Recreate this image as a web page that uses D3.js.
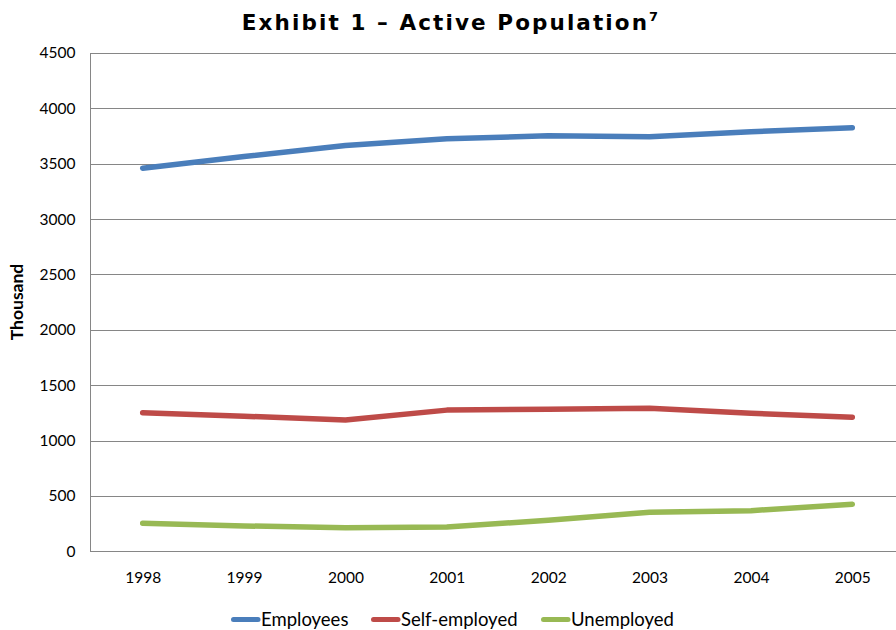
<!DOCTYPE html>
<html><head><meta charset="utf-8">
<script src="https://cdn.jsdelivr.net/npm/d3@7/dist/d3.min.js"></script>
<style>body{margin:0;background:#fff}svg{display:block}</style>
</head><body><svg id="c" width="896" height="630"></svg>
<script>
const years = ["1998","1999","2000","2001","2002","2003","2004","2005"];
const employees = [3460, 3565, 3665, 3725, 3752, 3744, 3789, 3825];
const selfEmployed = [1252, 1220, 1186, 1275, 1283, 1292, 1247, 1211];
const unemployed = [253, 229, 213, 220, 280, 352, 367, 425];
const yTicks = [0,500,1000,1500,2000,2500,3000,3500,4000,4500];
const seriesNames = ["Employees","Self-employed","Unemployed"];
const seriesColors = ["#4a7ebb","#be4b48","#98b954"];
const seriesData = [employees, selfEmployed, unemployed];

const svg = d3.select("#c");
const x = d3.scalePoint().domain(years).range([92, 903]).padding(0.5);
const y = d3.scaleLinear().domain([0,4500]).range([551.3, 53]);
const FONT = "Lato, 'Open Sans', sans-serif";

// gridlines
svg.append("g").selectAll("line").data(yTicks.slice(1)).join("line")
  .attr("x1",90).attr("x2",896).attr("y1",d=>Math.round(y(d))+0.5).attr("y2",d=>Math.round(y(d))+0.5)
  .attr("stroke","#868686").attr("stroke-width",1);

// y axis
const ya = svg.append("g").attr("transform","translate(90.5,0)")
  .call(d3.axisLeft(y).tickValues(yTicks).tickSize(0).tickPadding(15).tickFormat(d3.format("d")));
ya.select(".domain").attr("stroke","#868686").attr("d","M0,"+(Math.round(y(4500)))+"V"+(Math.round(y(0))+0.5));
ya.selectAll("text").attr("font-family",FONT).attr("font-size",15.5).attr("fill","#000");

// x axis
const xa = svg.append("g").attr("transform","translate(0,"+(Math.round(y(0))+0.5)+")")
  .call(d3.axisBottom(x).tickSize(0).tickPadding(20));
xa.select(".domain").attr("stroke","#868686").attr("d","M90,0H896");
xa.selectAll("text").attr("font-family",FONT).attr("font-size",15.5).attr("fill","#000");

// lines
const line = d3.line().x((d,i)=>x(years[i])).y(d=>y(d));
seriesData.forEach((s,k)=>{
  svg.append("path").datum(s).attr("d",line).attr("fill","none")
    .attr("stroke",seriesColors[k]).attr("stroke-width",5.5)
    .attr("stroke-linecap","round").attr("stroke-linejoin","round");
});

// title
const t = svg.append("text").attr("x",450).attr("y",30).attr("text-anchor","middle")
  .attr("font-family","'DejaVu Sans', Verdana, sans-serif").attr("font-weight","bold")
  .attr("font-size",21.5).attr("letter-spacing","2.1px").attr("fill","#000");
t.append("tspan").text("Exhibit 1 \u2013 Active Population");
t.append("tspan").text("7").attr("font-size",13).attr("dy",-9).attr("letter-spacing","0px");

// y label
svg.append("text").attr("transform","translate(23,302) rotate(-90)").attr("text-anchor","middle")
  .attr("font-family",FONT).attr("font-weight","bold").attr("font-size",17.5)
  .text("Thousand");

// legend
const legX = [232, 372, 542];
const lg = svg.append("g");
seriesNames.forEach((n,k)=>{
  lg.append("line").attr("x1",legX[k]+1.5).attr("x2",legX[k]+26).attr("y1",619.5).attr("y2",619.5)
    .attr("stroke",seriesColors[k]).attr("stroke-width",5).attr("stroke-linecap","round");
  lg.append("text").attr("x",legX[k]+29).attr("y",626).attr("font-family",FONT)
    .attr("font-size",18.5).text(n);
});
</script></body></html>
